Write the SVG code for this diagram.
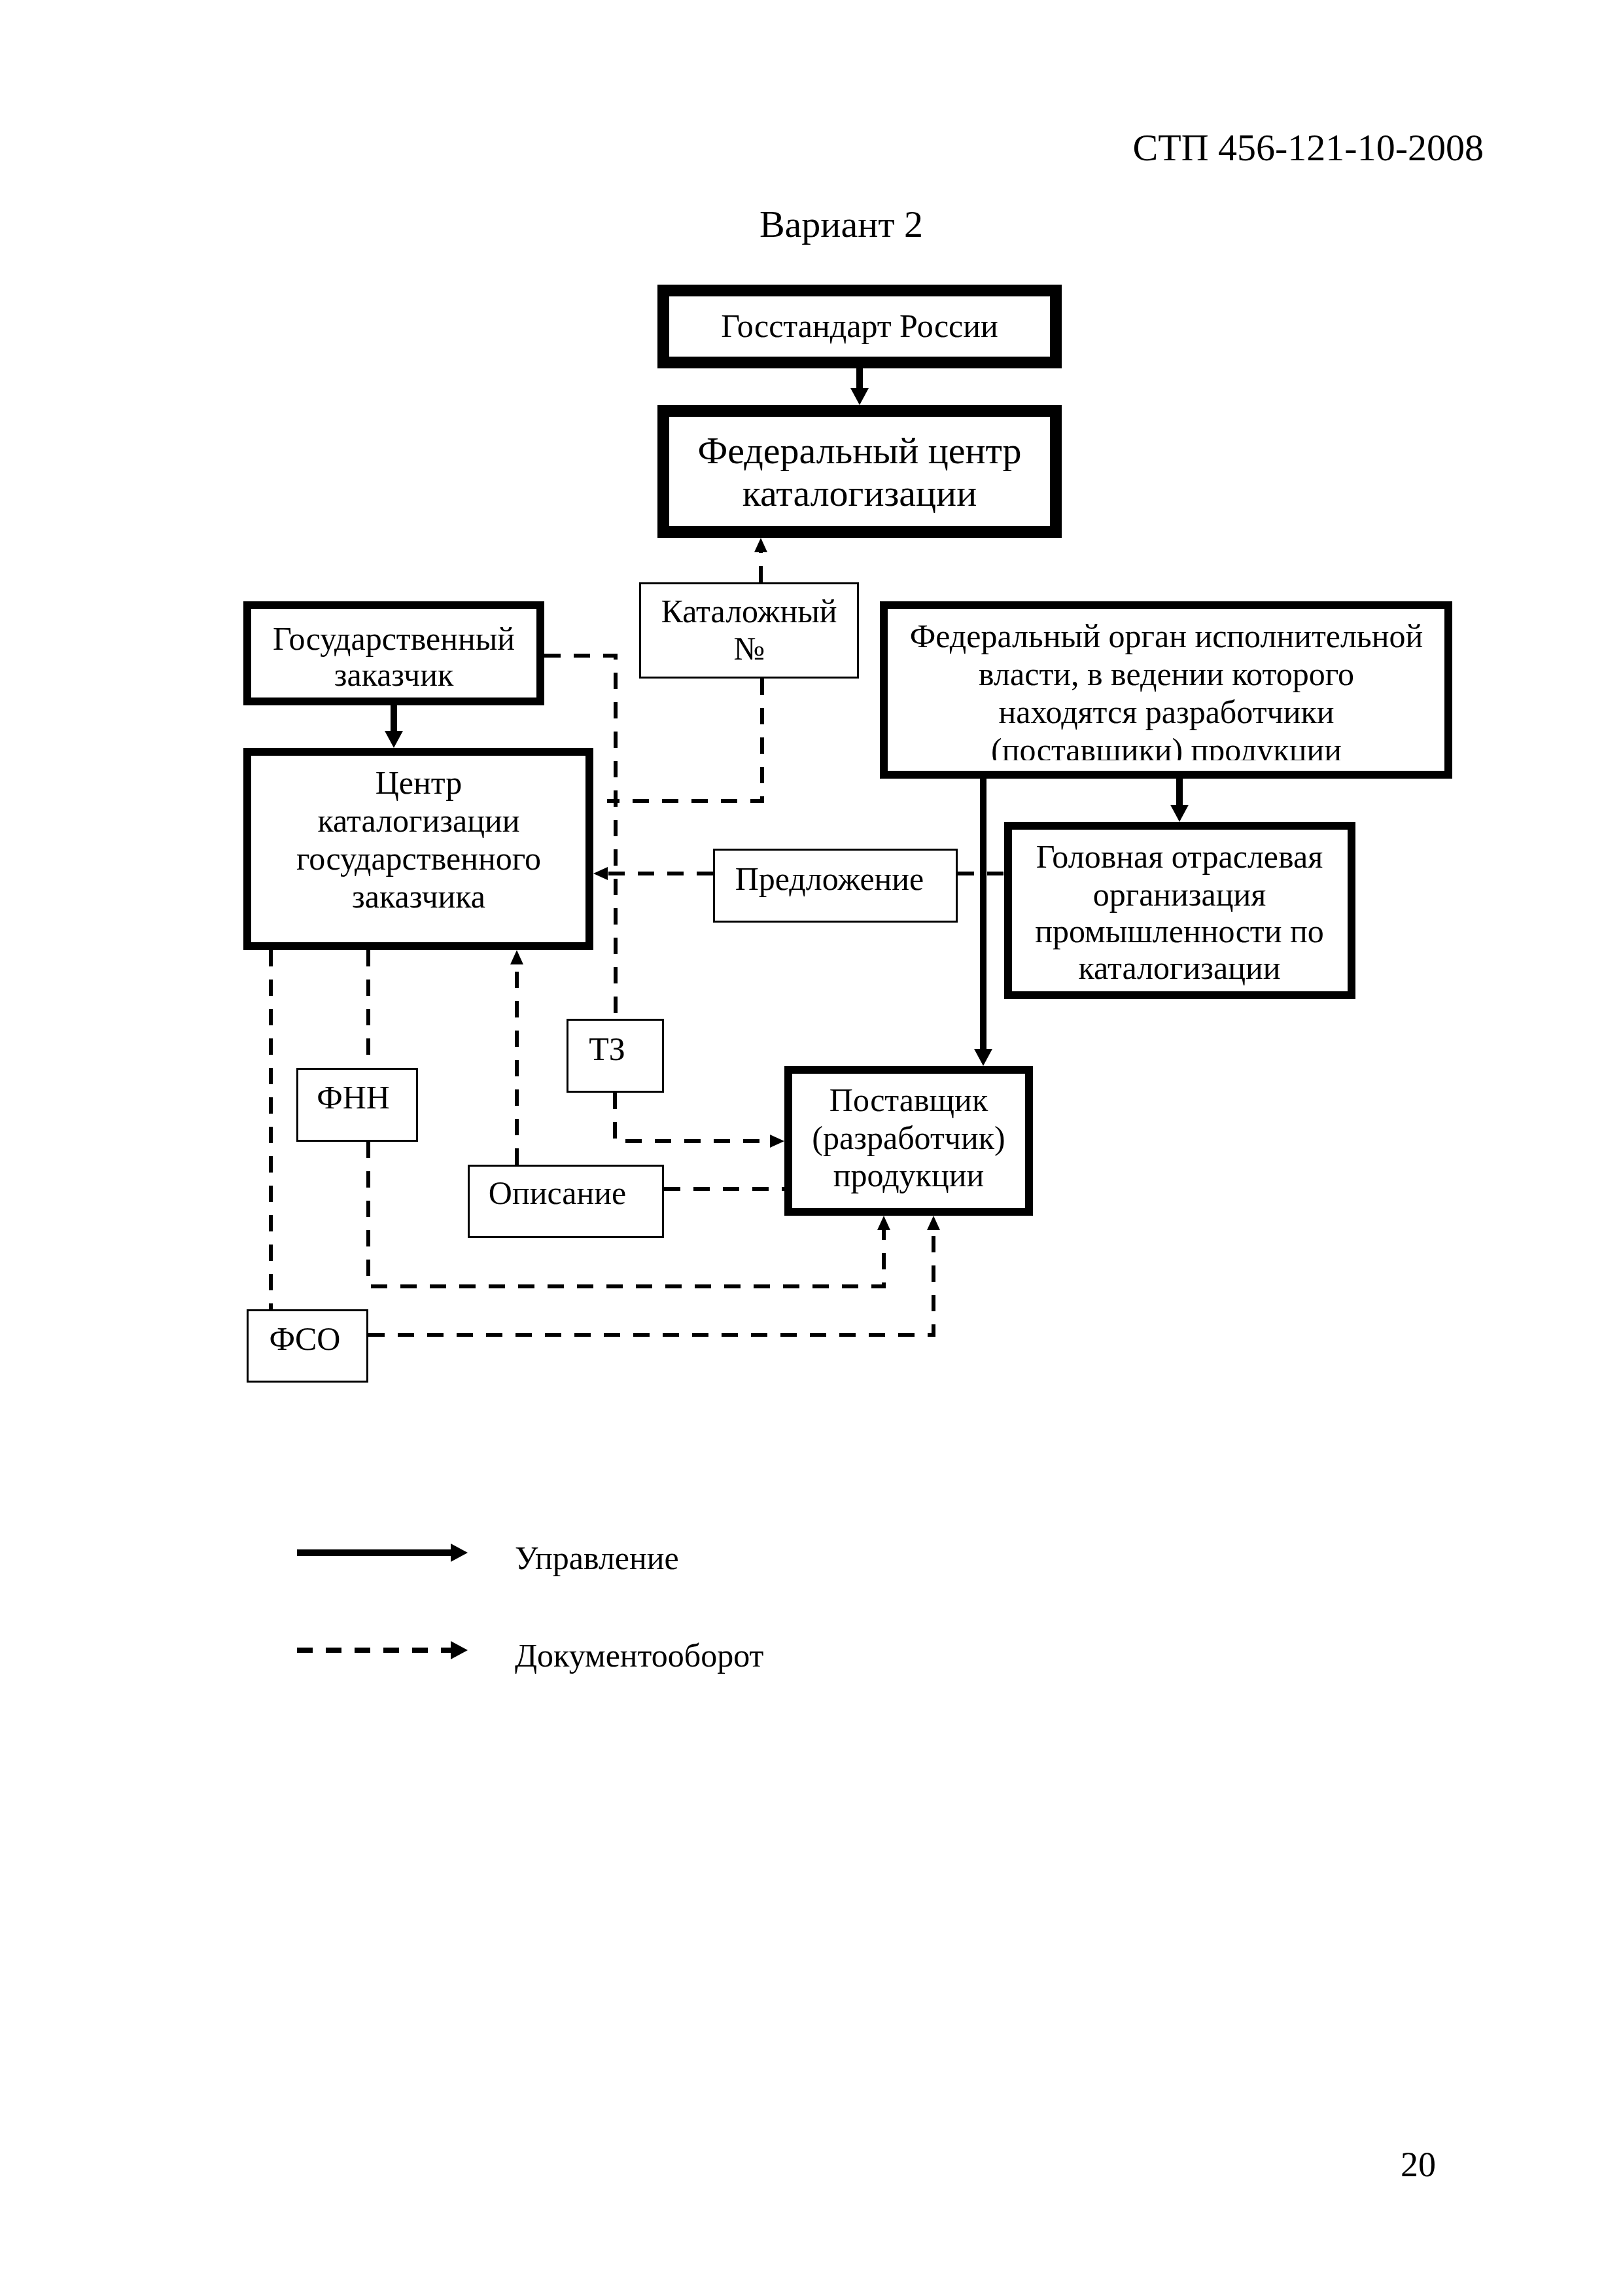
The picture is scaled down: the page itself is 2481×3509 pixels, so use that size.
<svg xmlns="http://www.w3.org/2000/svg" width="2481" height="3509" viewBox="0 0 2481 3509">
<style>
text{font-family:"Liberation Serif","Times New Roman",serif;fill:#000}
.t{font-size:50px;text-anchor:middle}
.big{font-size:58px;text-anchor:middle}
.b18{fill:#fff;stroke:#000;stroke-width:18}
.b12{fill:#fff;stroke:#000;stroke-width:12}
.b3{fill:#fff;stroke:#000;stroke-width:3}
.ctl{fill:none;stroke:#000;stroke-width:10}
.doc{fill:none;stroke:#000;stroke-width:6;stroke-dasharray:25 20}
</style>
<defs>
<marker id="ah" markerUnits="userSpaceOnUse" markerWidth="26" markerHeight="28" refX="0" refY="14" orient="auto" viewBox="0 0 26 28"><path d="M0,0 L26,14 L0,28 z" fill="#000"/></marker>
<marker id="dh" markerUnits="userSpaceOnUse" markerWidth="22" markerHeight="20" refX="0" refY="10" orient="auto" viewBox="0 0 22 20"><path d="M0,0 L22,10 L0,20 z" fill="#000"/></marker>
<clipPath id="clipFO"><rect x="1357" y="931" width="851" height="231"/></clipPath>
</defs>
<rect x="0" y="0" width="2481" height="3509" fill="#fff"/>
<text x="2268" y="245" style="font-size:58px;text-anchor:end">СТП 456-121-10-2008</text>
<text x="1286" y="362" class="big">Вариант 2</text>

<g id="connectors">
<path class="ctl" d="M1314,563 V593" marker-end="url(#ah)"/>
<path class="ctl" d="M602,1078 V1117" marker-end="url(#ah)"/>
<path class="ctl" d="M1803,1190 V1230" marker-end="url(#ah)"/>
<path class="ctl" d="M1503,1190 V1603" marker-end="url(#ah)"/>
<path class="doc" d="M1163,890 V844" marker-end="url(#dh)"/>
<path class="doc" d="M1090,1335 H929" marker-end="url(#dh)"/>
<path class="doc" d="M940,1670 V1744 H1177" marker-end="url(#dh)"/>
<path class="doc" d="M563,1745 V1966 H1351 V1880" marker-end="url(#dh)"/>
<path class="doc" d="M790,1780 V1474" marker-end="url(#dh)"/>
<path class="doc" d="M563,2040 H1427 V1880" marker-end="url(#dh)"/>
<path class="doc" d="M832,1002 H941 V1557"/>
<path class="doc" d="M1165,1037 V1224 H928"/>
<path class="doc" d="M1464,1335 H1535"/>
<path class="doc" d="M563,1452 V1632"/>
<path class="doc" d="M414,1452 V2001"/>
<path class="doc" d="M1015,1817 H1199"/>
</g>

<g id="gosstandart">
<rect class="b18" x="1014" y="444" width="600" height="110"/>
<text class="t" x="1314" y="515">Госстандарт России</text>
</g>
<g id="fed-center">
<rect class="b18" x="1014" y="628" width="600" height="185"/>
<text class="big" x="1314" y="708">Федеральный центр</text>
<text class="big" x="1314" y="773">каталогизации</text>
</g>
<g id="catalog-no">
<rect class="b3" x="978.5" y="891.5" width="333" height="144"/>
<text class="t" x="1145" y="951">Каталожный</text>
<text class="t" x="1145" y="1008">№</text>
</g>
<g id="gos-zakazchik">
<rect class="b12" x="378" y="925" width="448" height="147"/>
<text class="t" x="602" y="993">Государственный</text>
<text class="t" x="602" y="1048">заказчик</text>
</g>
<g id="centr">
<rect class="b12" x="378" y="1149" width="523" height="297"/>
<text class="t" x="640" y="1213">Центр</text>
<text class="t" x="640" y="1271">каталогизации</text>
<text class="t" x="640" y="1329">государственного</text>
<text class="t" x="640" y="1387">заказчика</text>
</g>
<g id="fed-organ">
<rect class="b12" x="1351" y="925" width="863" height="259"/>
<g clip-path="url(#clipFO)">
<text class="t" x="1783" y="989">Федеральный орган исполнительной</text>
<text class="t" x="1783" y="1047">власти, в ведении которого</text>
<text class="t" x="1783" y="1105">находятся разработчики</text>
<text class="t" x="1783" y="1163">(поставщики) продукции</text>
</g>
</g>
<g id="predlozhenie">
<rect class="b3" x="1091.5" y="1298.5" width="371" height="110"/>
<text class="t" x="1268" y="1360">Предложение</text>
</g>
<g id="golovnaya">
<rect class="b12" x="1541" y="1262" width="525" height="259"/>
<text class="t" x="1803" y="1326">Головная отраслевая</text>
<text class="t" x="1803" y="1384">организация</text>
<text class="t" x="1803" y="1440">промышленности по</text>
<text class="t" x="1803" y="1496">каталогизации</text>
</g>
<g id="tz">
<rect class="b3" x="867.5" y="1558.5" width="146" height="110"/>
<text class="t" x="928" y="1620">ТЗ</text>
</g>
<g id="postavshik">
<rect class="b12" x="1205" y="1635" width="368" height="217"/>
<text class="t" x="1389" y="1698">Поставщик</text>
<text class="t" x="1389" y="1756">(разработчик)</text>
<text class="t" x="1389" y="1813">продукции</text>
</g>
<g id="fnn">
<rect class="b3" x="454.5" y="1633.5" width="183" height="110"/>
<text class="t" x="540" y="1694">ФНН</text>
</g>
<g id="opisanie">
<rect class="b3" x="716.5" y="1781.5" width="297" height="109"/>
<text class="t" x="852" y="1840">Описание</text>
</g>
<g id="fso">
<rect class="b3" x="378.5" y="2002.5" width="183" height="109"/>
<text class="t" x="466" y="2063">ФСО</text>
</g>

<g id="legend">
<path class="ctl" d="M454,2373 H689" marker-end="url(#ah)"/>
<text x="787" y="2398" style="font-size:50px">Управление</text>
<path class="doc" d="M454,2522 H689" style="stroke-width:8;stroke-dasharray:24 20" marker-end="url(#ah)"/>
<text x="787" y="2547" style="font-size:50px">Документооборот</text>
</g>
<text x="2168" y="3326" style="font-size:54px;text-anchor:middle">20</text>
</svg>
